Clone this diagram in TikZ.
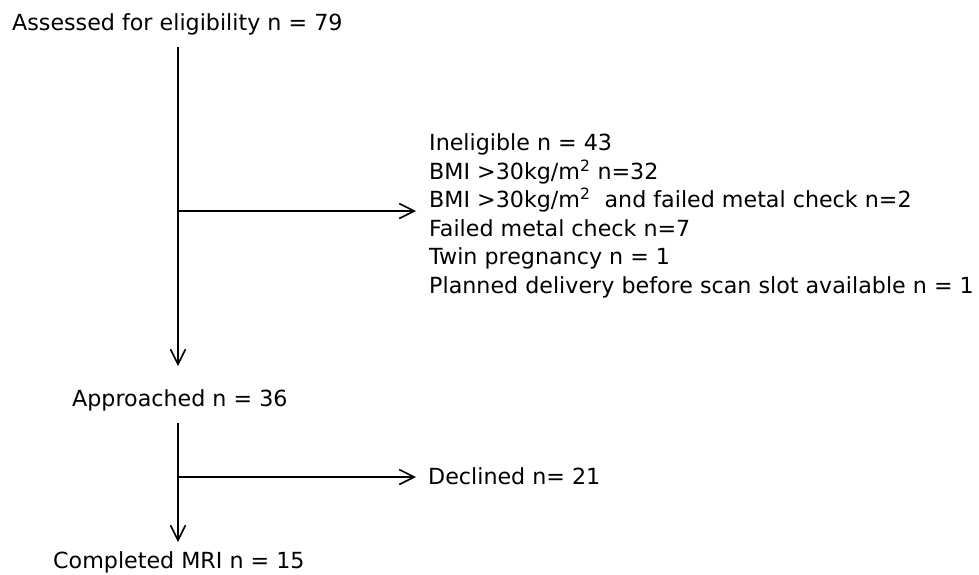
\documentclass[tikz,border=0pt]{standalone}
\usepackage{fontspec}
\setmainfont{DejaVu Sans}
\usetikzlibrary{arrows.meta}
\begin{document}
\begin{tikzpicture}[x=1pt,y=-1pt,
  lbl/.style={anchor=base west, inner sep=0pt, font=\fontsize{22.2}{26}\selectfont},
  flow/.style={line width=1.6pt, -{Straight Barb[length=15pt,width=15pt,line width=1.6pt]}}]
\useasboundingbox (0,0) rectangle (979,574);
% nodes
\node[lbl] (assessed) at (12,30) {Assessed for eligibility n = 79};
\node[lbl] (l1) at (429,150) {Ineligible n = 43};
\node[lbl] (l2) at (429,179) {BMI >30kg/m\textsuperscript{2} n=32};
\node[lbl] (l3) at (429,207) {BMI >30kg/m\textsuperscript{2}\ \ and failed metal check n=2};
\node[lbl] (l4) at (429,236) {Failed metal check n=7};
\node[lbl] (l5) at (429,264) {Twin pregnancy n = 1};
\node[lbl] (l6) at (429,293) {Planned delivery before scan slot available n = 1};
\node[lbl] (approached) at (72,406) {Approached n = 36};
\node[lbl] (declined) at (428,484) {Declined n= 21};
\node[lbl] (completed) at (53,568) {Completed MRI n = 15};
% coordinates
\coordinate (v1top) at (178,47);
\coordinate (v1bot) at (178,366);
\coordinate (b1) at (178,211);
\coordinate (b1end) at (416,211);
\coordinate (v2top) at (178,423);
\coordinate (v2bot) at (178,542);
\coordinate (b2) at (178,477);
\coordinate (b2end) at (416,477);
% connectors
\draw[flow] (v1top) -- (v1bot);
\draw[flow] (b1) -- (b1end);
\draw[flow] (v2top) -- (v2bot);
\draw[flow] (b2) -- (b2end);
\end{tikzpicture}
\end{document}
